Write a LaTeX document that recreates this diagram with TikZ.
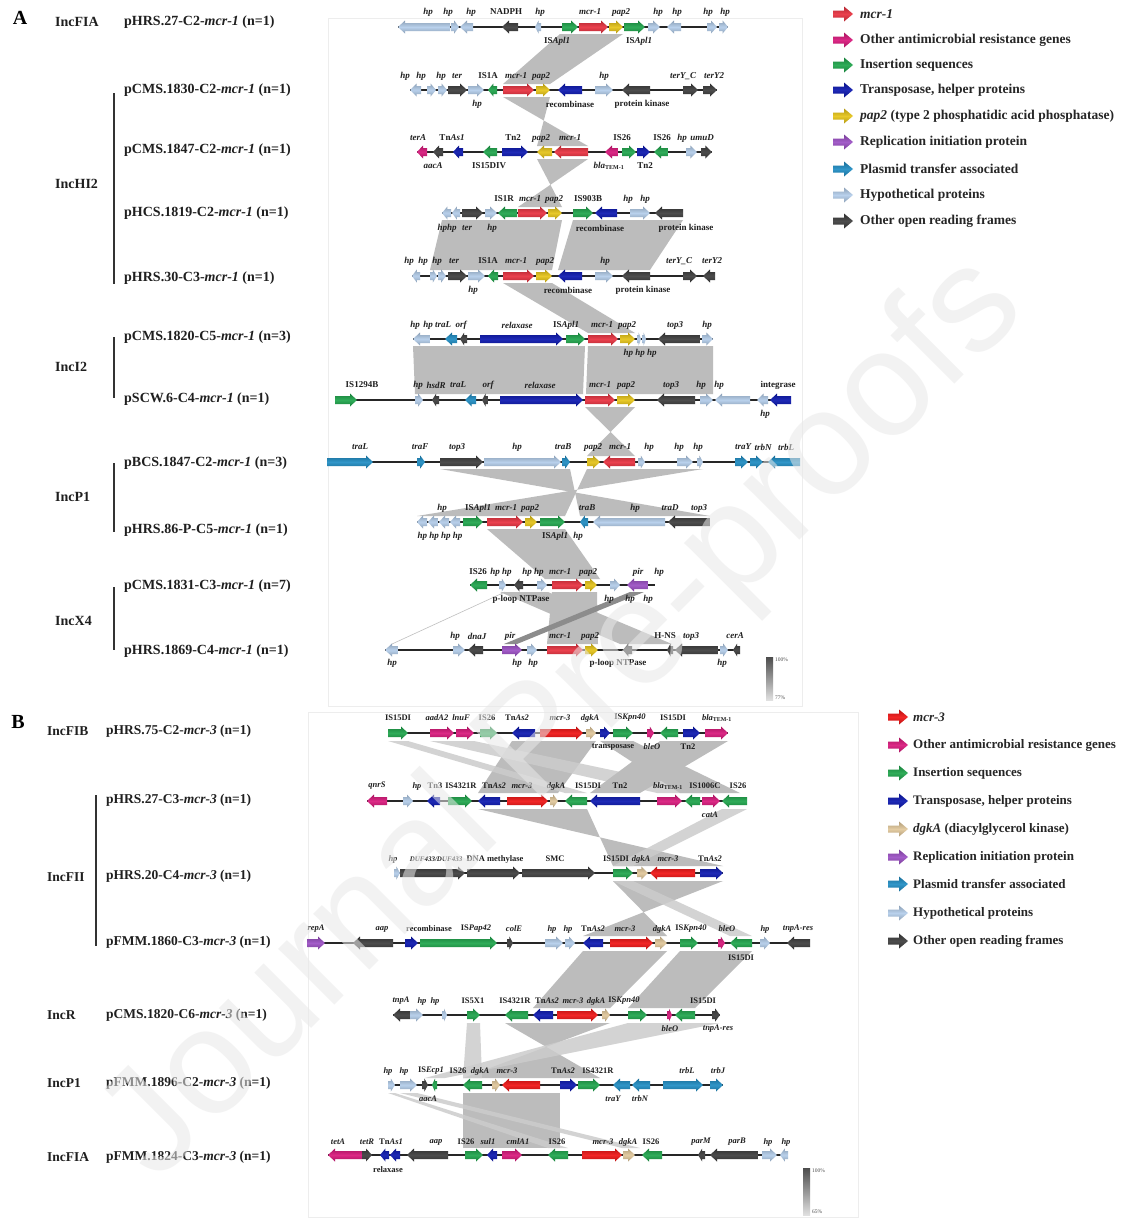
\documentclass[tikz,border=0pt]{standalone}
\usepackage{fontspec}
\setmainfont{Liberation Serif}
\newfontfamily\wmfont{Liberation Sans}
\definecolor{cMcr}{HTML}{E8313F}
\definecolor{cMcrB}{HTML}{F01414}
\definecolor{cAmr}{HTML}{D9177B}
\definecolor{cIS}{HTML}{1EA54B}
\definecolor{cTn}{HTML}{0B17B0}
\definecolor{cPap}{HTML}{E6C417}
\definecolor{cRep}{HTML}{9B4FC4}
\definecolor{cTra}{HTML}{1F8DC4}
\definecolor{cHp}{HTML}{B3CDEA}
\definecolor{cOrf}{HTML}{3D3D3D}
\definecolor{cDgk}{HTML}{E2C89B}
\definecolor{cBand}{HTML}{BCBCBC}
\tikzset{
 lab/.style={font=\fontsize{9}{10}\selectfont\bfseries\itshape, inner sep=0pt, text=black!88},
 pl/.style={font=\fontsize{14}{16}\selectfont\bfseries, anchor=west, inner sep=0pt, text=black!88},
 plb/.style={font=\fontsize{13.5}{15}\selectfont\bfseries, anchor=west, inner sep=0pt, text=black!88},
 legt/.style={font=\fontsize{13.5}{15}\selectfont\bfseries, anchor=west, inner sep=0pt, text=black!85},
 legtb/.style={font=\fontsize{13}{15}\selectfont\bfseries, anchor=west, inner sep=0pt, text=black!85},
 panel/.style={font=\fontsize{20}{22}\selectfont\bfseries, inner sep=0pt},
 band/.style={fill=cBand},
 bandl/.style={fill=black!20, opacity=0.85},
 bbone/.style={line width=1.5pt, black!85},
 gbar/.style={line width=1.6pt, black!80},
 tiny/.style={font=\fontsize{5.5}{6}\selectfont, anchor=west, inner sep=0pt, text=black!70},
 gsh/.style={top color=#1!78!black, bottom color=#1!78!black, middle color=#1!92!white},
}
\newcount\labno
\newcommand\glab[3]{\global\advance\labno by 1\relax\node[lab] (g\number\labno) at (#1,#2) {#3};}
\newcommand\UP[1]{\textup{#1}}
\newcommand\bbn[3]{\draw[bbone] (#1,#3) -- (#2,#3);}
\newcommand\gR[4]{\pgfmathsetmacro\ghl{min(7,0.6*(#2-#1))}\shade[gsh=#4] (#1,#3-4) -- ({#2-\ghl},#3-4) -- ({#2-\ghl},#3-6.5) -- (#2,#3) -- ({#2-\ghl},#3+6.5) -- ({#2-\ghl},#3+4) -- (#1,#3+4) -- cycle;}
\newcommand\gL[4]{\pgfmathsetmacro\ghl{min(7,0.6*(#2-#1))}\shade[gsh=#4] (#2,#3-4) -- ({#1+\ghl},#3-4) -- ({#1+\ghl},#3-6.5) -- (#1,#3) -- ({#1+\ghl},#3+6.5) -- ({#1+\ghl},#3+4) -- (#2,#3+4) -- cycle;}
\newcommand\legar[3]{\shade[gsh=#3] (#1,#2-3.5) -- (#1+11,#2-3.5) -- (#1+11,#2-7.5) -- (#1+20,#2) -- (#1+11,#2+7.5) -- (#1+11,#2+3.5) -- (#1,#2+3.5) -- cycle;}
\begin{document}
\begin{tikzpicture}[x=1pt,y=-1pt]
\useasboundingbox (0,0) rectangle (1124,1218);
\fill[white] (0,0) rectangle (1124,1218);
\draw[black!7] (328,18) rectangle (802,706);
\draw[black!7] (308,712) rectangle (858,1217);
% ================= PANEL A bands
\fill[band] (560,34) -- (623,34) -- (550,84) -- (503,84) -- cycle;
\fill[band] (503,97) -- (550,97) -- (537,146) -- (588,146) -- cycle;
\fill[band] (537,159) -- (588,159) -- (518,207) -- (562,207) -- cycle;
\fill[band] (442,220) -- (562,220) -- (552,270) -- (430,270) -- cycle;
\fill[band] (573,220) -- (683,220) -- (650,270) -- (558,270) -- cycle;
\fill[band] (503,283) -- (552,283) -- (635,333) -- (588,333) -- cycle;
\fill[band] (413,346) -- (585,346) -- (583,394) -- (415,394) -- cycle;
\fill[band] (588,346) -- (713,346) -- (713,394) -- (586,394) -- cycle;
\fill[band] (585,407) -- (635,407) -- (587,456) -- (635,456) -- cycle;
\fill[band] (440,469) -- (570,469) -- (580,516) -- (710,516) -- cycle;
\fill[band] (587,469) -- (703,469) -- (417,516) -- (565,516) -- cycle;
\fill[band] (487,529) -- (565,529) -- (600,579) -- (545,579) -- cycle;
\fill[band] (552,592) -- (597,592) -- (598,644) -- (547,644) -- cycle;
\fill[band] (500,592) -- (548,592) -- (672,644) -- (620,644) -- cycle;
\fill[black!45] (630,592) -- (644,592) -- (517,644) -- (504,644) -- cycle;
\draw[black!25, line width=0.6pt] (505,592) -- (392,644);
% ================= PANEL B bands
\fill[band] (512,741) -- (596,741) -- (558,793) -- (478,793) -- cycle;
\fill[bandl] (388,741) -- (408,741) -- (587,793) -- (565,793) -- cycle;
\fill[bandl] (430,741) -- (474,741) -- (720,793) -- (657,793) -- cycle;
\fill[band] (660,741) -- (728,741) -- (640,793) -- (590,793) -- cycle;
\fill[band] (600,741) -- (633,741) -- (740,793) -- (680,793) -- cycle;
\fill[band] (478,809) -- (587,809) -- (613,866) -- (723,866) -- cycle;
\fill[bandl] (722,809) -- (747,809) -- (633,866) -- (613,866) -- cycle;
\fill[band] (613,881) -- (723,881) -- (583,936) -- (667,936) -- cycle;
\fill[bandl] (613,881) -- (633,881) -- (752,936) -- (730,936) -- cycle;
\fill[band] (583,951) -- (667,951) -- (610,1008) -- (533,1008) -- cycle;
\fill[band] (680,951) -- (752,951) -- (695,1008) -- (628,1008) -- cycle;
\fill[band] (505,1023) -- (610,1023) -- (463,1078) -- (600,1078) -- cycle;
\fill[bandl] (628,1023) -- (720,1023) -- (445,1078) -- (425,1078) -- cycle;
\fill[bandl] (467,1023) -- (480,1023) -- (482,1078) -- (463,1078) -- cycle;
\fill[band] (463,1093) -- (560,1093) -- (560,1148) -- (463,1148) -- cycle;
\fill[bandl] (400,1093) -- (417,1093) -- (640,1148) -- (622,1148) -- cycle;
\fill[bandl] (388,1093) -- (395,1093) -- (568,1148) -- (548,1148) -- cycle;
% ================= ROW A1
\bbn{398}{728}{27}
\gL{398}{450}{27}{cHp}\gR{451}{459}{27}{cHp}\gL{460}{473}{27}{cHp}\gL{502}{518}{27}{cOrf}\gL{535}{541}{27}{cHp}
\gR{562}{578}{27}{cIS}\gR{579}{608}{27}{cMcr}\gR{609}{623}{27}{cPap}\gR{624}{645}{27}{cIS}\gR{648}{660}{27}{cHp}
\gL{667}{681}{27}{cHp}\gR{707}{717}{27}{cHp}\gR{719}{728}{27}{cHp}
\glab{428}{12}{hp}\glab{448}{12}{hp}\glab{471}{12}{hp}\glab{506}{12}{\UP{NADPH}}\glab{540}{12}{hp}\glab{590}{12}{mcr-1}
\glab{621}{12}{pap2}\glab{658}{12}{hp}\glab{677}{12}{hp}\glab{708}{12}{hp}\glab{725}{12}{hp}
\glab{557}{41}{\UP{IS}Apl1}\glab{639}{41}{\UP{IS}Apl1}
% ================= ROW A2
\bbn{410}{717}{90}
\gL{410}{421}{90}{cHp}\gR{427}{436}{90}{cHp}\gR{438}{447}{90}{cHp}\gR{448}{467}{90}{cOrf}\gR{468}{484}{90}{cHp}
\gL{488}{497}{90}{cIS}\gR{503}{534}{90}{cMcr}\gR{536}{550}{90}{cPap}\gL{558}{582}{90}{cTn}\gR{595}{613}{90}{cHp}
\gL{622}{650}{90}{cOrf}\gR{683}{698}{90}{cOrf}\gR{703}{717}{90}{cOrf}
\glab{405}{76}{hp}\glab{421}{76}{hp}\glab{441}{76}{hp}\glab{457}{76}{ter}\glab{488}{76}{\UP{IS1A}}\glab{516}{76}{mcr-1}
\glab{541}{76}{pap2}\glab{604}{76}{hp}\glab{683}{76}{terY\_C}\glab{714}{76}{terY2}
\glab{477}{104}{hp}\glab{570}{104}{\UP{recombinase}}\glab{642}{104}{\UP{protein kinase}}
% ================= ROW A3
\bbn{417}{712}{152}
\gL{417}{427}{152}{cAmr}\gL{433}{443}{152}{cOrf}\gL{453}{463}{152}{cTn}\gL{483}{497}{152}{cIS}\gR{502}{528}{152}{cTn}
\gL{537}{552}{152}{cPap}\gL{554}{588}{152}{cMcr}\gL{605}{618}{152}{cAmr}\gR{622}{636}{152}{cIS}\gR{637}{650}{152}{cTn}
\gL{654}{668}{152}{cIS}\gR{686}{697}{152}{cHp}\gR{701}{712}{152}{cOrf}
\glab{418}{138}{terA}\glab{452}{138}{\UP{Tn}As1}\glab{513}{138}{\UP{Tn2}}\glab{541}{138}{pap2}\glab{570}{138}{mcr-1}
\glab{622}{138}{\UP{IS26}}\glab{662}{138}{\UP{IS26}}\glab{682}{138}{hp}\glab{702}{138}{umuD}
\glab{433}{166}{aacA}\glab{489}{166}{\UP{IS15DIV}}\glab{609}{166}{bla\textsubscript{\UP{TEM-1}}}\glab{645}{166}{\UP{Tn2}}
% ================= ROW A4
\bbn{442}{683}{213}
\gL{442}{451}{213}{cHp}\gL{452}{460}{213}{cHp}\gR{462}{483}{213}{cOrf}\gR{485}{497}{213}{cHp}\gL{498}{517}{213}{cIS}
\gR{518}{547}{213}{cMcr}\gR{548}{562}{213}{cPap}\gR{573}{593}{213}{cIS}\gL{595}{617}{213}{cTn}\gR{630}{650}{213}{cHp}
\gL{655}{683}{213}{cOrf}
\glab{504}{199}{\UP{IS1R}}\glab{530}{199}{mcr-1}\glab{554}{199}{pap2}\glab{588}{199}{\UP{IS903B}}\glab{628}{199}{hp}\glab{645}{199}{hp}
\glab{447}{228}{hphp}\glab{467}{228}{ter}\glab{492}{228}{hp}\glab{600}{228}{\UP{recombinase}}\glab{686}{228}{\UP{protein kinase}}
% ================= ROW A5
\bbn{412}{715}{276}
\gL{412}{420}{276}{cHp}\gR{430}{437}{276}{cHp}\gR{438}{446}{276}{cHp}\gR{448}{467}{276}{cOrf}\gR{468}{485}{276}{cHp}
\gL{488}{498}{276}{cIS}\gR{503}{534}{276}{cMcr}\gR{536}{552}{276}{cPap}\gL{558}{582}{276}{cTn}\gR{595}{613}{276}{cHp}
\gL{622}{650}{276}{cOrf}\gR{683}{697}{276}{cOrf}\gL{703}{715}{276}{cOrf}
\glab{409}{261}{hp}\glab{423}{261}{hp}\glab{437}{261}{hp}\glab{454}{261}{ter}\glab{488}{261}{\UP{IS1A}}\glab{516}{261}{mcr-1}
\glab{545}{261}{pap2}\glab{605}{261}{hp}\glab{679}{261}{terY\_C}\glab{712}{261}{terY2}
\glab{473}{290}{hp}\glab{568}{290}{\UP{recombinase}}\glab{643}{290}{\UP{protein kinase}}
% ================= ROW A6
\bbn{413}{713}{339}
\gL{413}{430}{339}{cHp}\gL{445}{457}{339}{cTra}\gL{460}{467}{339}{cOrf}\gR{480}{563}{339}{cTn}\gR{566}{585}{339}{cIS}
\gR{588}{618}{339}{cMcr}\gR{620}{635}{339}{cPap}\gR{637}{641}{339}{cHp}\gR{642}{646}{339}{cHp}\gL{658}{700}{339}{cOrf}
\gR{702}{713}{339}{cHp}
\glab{415}{325}{hp}\glab{428}{325}{hp}\glab{443}{325}{traL}\glab{461}{325}{orf}\glab{517}{325}{relaxase}\glab{566}{325}{\UP{IS}Apl1}
\glab{602}{325}{mcr-1}\glab{627}{325}{pap2}\glab{675}{325}{top3}\glab{707}{325}{hp}
\glab{640}{353}{hp hp hp}
% ================= ROW A7
\bbn{335}{790}{400}
\gR{335}{357}{400}{cIS}\gR{415}{423}{400}{cHp}\gL{432}{439}{400}{cOrf}\gL{465}{476}{400}{cTra}\gL{482}{488}{400}{cOrf}
\gR{500}{583}{400}{cTn}\gR{585}{615}{400}{cMcr}\gR{617}{635}{400}{cPap}\gL{657}{695}{400}{cOrf}\gR{700}{713}{400}{cHp}
\gL{715}{750}{400}{cHp}\gL{757}{768}{400}{cHp}\gL{770}{791}{400}{cTn}
\glab{362}{385}{\UP{IS1294B}}\glab{418}{385}{hp}\glab{436}{385}{hsdR}\glab{458}{385}{traL}\glab{488}{385}{orf}
\glab{540}{385}{relaxase}\glab{600}{385}{mcr-1}\glab{626}{385}{pap2}\glab{671}{385}{top3}\glab{701}{385}{hp}\glab{719}{385}{hp}
\glab{778}{385}{\UP{integrase}}
\glab{765}{414}{hp}
% ================= ROW A8
\bbn{327}{800}{462}
\gR{327}{373}{462}{cTra}\gR{417}{425}{462}{cTra}\gR{440}{483}{462}{cOrf}\gR{484}{561}{462}{cHp}\gR{562}{570}{462}{cTra}
\gR{587}{600}{462}{cPap}\gL{603}{635}{462}{cMcr}\gR{638}{645}{462}{cHp}\gR{677}{693}{462}{cHp}\gR{697}{703}{462}{cHp}
\gR{735}{748}{462}{cTra}\gR{750}{763}{462}{cTra}\gL{768}{800}{462}{cTra}
\glab{360}{447}{traL}\glab{420}{447}{traF}\glab{457}{447}{top3}\glab{517}{447}{hp}\glab{563}{447}{traB}\glab{593}{447}{pap2}
\glab{620}{447}{mcr-1}\glab{649}{447}{hp}\glab{679}{447}{hp}\glab{698}{447}{hp}\glab{743}{447}{traY}\glab{763}{447}{trbN}\glab{786}{447}{trbL}
% ================= ROW A9
\bbn{417}{710}{522}
\gL{417}{427}{522}{cHp}\gL{428}{438}{522}{cHp}\gL{439}{449}{522}{cHp}\gL{450}{460}{522}{cHp}\gR{463}{483}{522}{cIS}
\gR{487}{523}{522}{cMcr}\gR{525}{537}{522}{cPap}\gR{540}{565}{522}{cIS}\gL{580}{588}{522}{cTra}\gL{593}{665}{522}{cHp}
\gL{668}{710}{522}{cOrf}
\glab{442}{508}{hp}\glab{478}{508}{\UP{IS}Apl1}\glab{506}{508}{mcr-1}\glab{530}{508}{pap2}\glab{587}{508}{traB}
\glab{635}{508}{hp}\glab{670}{508}{traD}\glab{699}{508}{top3}
\glab{440}{536}{hp hp hp hp}\glab{555}{536}{\UP{IS}Apl1}\glab{578}{536}{hp}
% ================= ROW A10
\bbn{470}{655}{585}
\gL{470}{487}{585}{cIS}\gR{499}{506}{585}{cHp}\gL{514}{523}{585}{cOrf}\gR{537}{547}{585}{cHp}\gR{552}{583}{585}{cMcr}
\gR{585}{597}{585}{cPap}\gR{610}{620}{585}{cHp}\gL{627}{648}{585}{cRep}
\glab{478}{572}{\UP{IS26}}\glab{501}{572}{hp hp}\glab{533}{572}{hp hp}\glab{560}{572}{mcr-1}\glab{588}{572}{pap2}
\glab{638}{572}{pir}\glab{659}{572}{hp}
\glab{521}{599}{\UP{p-loop NTPase}}\glab{609}{599}{hp}\glab{630}{599}{hp}\glab{648}{599}{hp}
% ================= ROW A11
\bbn{385}{740}{650}
\gL{385}{398}{650}{cHp}\gR{453}{465}{650}{cHp}\gL{468}{483}{650}{cOrf}\gR{502}{522}{650}{cRep}\gR{527}{537}{650}{cHp}
\gR{547}{583}{650}{cMcr}\gR{585}{598}{650}{cPap}\gL{623}{632}{650}{cOrf}\gL{667}{673}{650}{cOrf}\gL{675}{718}{650}{cOrf}
\gR{720}{728}{650}{cHp}\gL{733}{740}{650}{cOrf}
\glab{455}{636}{hp}\glab{477}{636}{dnaJ}\glab{510}{636}{pir}\glab{560}{636}{mcr-1}\glab{590}{636}{pap2}
\glab{665}{636}{\UP{H-NS}}\glab{691}{636}{top3}\glab{735}{636}{cerA}
\glab{392}{663}{hp}\glab{517}{663}{hp}\glab{533}{663}{hp}\glab{618}{663}{\UP{p-loop NTPase}}\glab{722}{663}{hp}
% scale bar A
\shade[top color=black!70, bottom color=black!12] (766,657) rectangle (773,700);
\node[tiny] (sa1) at (775,660) {100\%};
\node[tiny] (sa2) at (775,698) {77\%};
% ================= PANEL B labels smaller
\tikzset{lab/.style={font=\fontsize{8.5}{9}\selectfont\bfseries\itshape, inner sep=0pt, text=black!88}}
% ================= ROW B1
\bbn{388}{728}{733}
\gR{388}{408}{733}{cIS}\gR{430}{454}{733}{cAmr}\gR{456}{474}{733}{cAmr}\gR{480}{497}{733}{cIS}\gL{512}{535}{733}{cTn}
\gR{540}{583}{733}{cMcrB}\gR{586}{596}{733}{cDgk}\gR{600}{610}{733}{cTn}\gR{613}{633}{733}{cIS}\gR{647}{654}{733}{cAmr}
\gL{660}{678}{733}{cIS}\gR{683}{700}{733}{cTn}\gR{705}{728}{733}{cAmr}
\glab{398}{718}{\UP{IS15DI}}\glab{437}{718}{aadA2}\glab{461}{718}{lnuF}\glab{487}{718}{\UP{IS26}}\glab{517}{718}{\UP{Tn}As2}
\glab{560}{718}{mcr-3}\glab{590}{718}{dgkA}\glab{630}{718}{\UP{IS}Kpn40}\glab{673}{718}{\UP{IS15DI}}\glab{717}{718}{bla\textsubscript{\UP{TEM-1}}}
\glab{613}{747}{\UP{transposase}}\glab{652}{747}{bleO}\glab{688}{747}{\UP{Tn2}}
% ================= ROW B2
\bbn{367}{747}{801}
\gL{367}{387}{801}{cAmr}\gR{403}{413}{801}{cHp}\gL{427}{440}{801}{cTn}\gR{448}{472}{801}{cIS}\gL{478}{500}{801}{cTn}
\gR{507}{548}{801}{cMcrB}\gR{550}{558}{801}{cDgk}\gL{565}{587}{801}{cIS}\gL{590}{640}{801}{cTn}\gR{657}{682}{801}{cAmr}
\gL{685}{700}{801}{cIS}\gR{702}{720}{801}{cAmr}\gL{722}{747}{801}{cIS}
\glab{377}{786}{qnrS}\glab{417}{786}{hp}\glab{435}{786}{\UP{Tn3}}\glab{461}{786}{\UP{IS4321R}}\glab{494}{786}{\UP{Tn}As2}
\glab{522}{786}{mcr-3}\glab{556}{786}{dgkA}\glab{588}{786}{\UP{IS15DI}}\glab{620}{786}{\UP{Tn2}}\glab{668}{786}{bla\textsubscript{\UP{TEM-1}}}
\glab{705}{786}{\UP{IS1006C}}\glab{738}{786}{\UP{IS26}}
\glab{710}{815}{catA}
% ================= ROW B3
\bbn{394}{723}{873}
\gR{394}{400}{873}{cHp}\gR{400}{465}{873}{cOrf}\gR{467}{520}{873}{cOrf}\gR{522}{595}{873}{cOrf}\gR{613}{633}{873}{cIS}
\gR{637}{648}{873}{cDgk}\gL{650}{695}{873}{cMcrB}\gR{700}{723}{873}{cTn}
\glab{393}{859}{hp}\glab{436}{859}{\fontsize{7}{8}\selectfont DUF433/DUF433}\glab{495}{859}{\UP{DNA methylase}}\glab{555}{859}{\UP{SMC}}
\glab{616}{859}{\UP{IS15DI}}\glab{641}{859}{dgkA}\glab{668}{859}{mcr-3}\glab{710}{859}{\UP{Tn}As2}
% ================= ROW B4
\bbn{307}{810}{943}
\gR{307}{325}{943}{cRep}\gL{353}{393}{943}{cOrf}\gR{405}{418}{943}{cTn}\gR{420}{497}{943}{cIS}\gR{507}{513}{943}{cOrf}
\gR{545}{563}{943}{cHp}\gR{565}{575}{943}{cHp}\gL{583}{603}{943}{cTn}\gR{610}{653}{943}{cMcrB}\gR{655}{667}{943}{cDgk}
\gR{680}{698}{943}{cIS}\gR{718}{725}{943}{cAmr}\gL{730}{752}{943}{cIS}\gR{760}{770}{943}{cHp}\gL{787}{810}{943}{cOrf}
\glab{316}{929}{repA}\glab{382}{929}{aap}\glab{429}{929}{\UP{recombinase}}\glab{476}{929}{\UP{IS}Pap42}\glab{514}{929}{colE}
\glab{552}{929}{hp}\glab{568}{929}{hp}\glab{593}{929}{\UP{Tn}As2}\glab{625}{929}{mcr-3}\glab{662}{929}{dgkA}\glab{691}{929}{\UP{IS}Kpn40}
\glab{727}{929}{bleO}\glab{765}{929}{hp}\glab{798}{929}{tnpA-res}
\glab{741}{958}{\UP{IS15DI}}
% ================= ROW B5
\bbn{393}{720}{1015}
\gL{393}{410}{1015}{cOrf}\gR{410}{423}{1015}{cHp}\gR{442}{447}{1015}{cHp}\gR{467}{480}{1015}{cIS}\gL{505}{528}{1015}{cIS}
\gL{533}{553}{1015}{cTn}\gR{557}{598}{1015}{cMcrB}\gR{602}{610}{1015}{cDgk}\gR{628}{647}{1015}{cIS}\gR{667}{672}{1015}{cAmr}
\gL{675}{695}{1015}{cIS}\gR{712}{720}{1015}{cOrf}
\glab{401}{1001}{tnpA}\glab{422}{1001}{hp}\glab{435}{1001}{hp}\glab{473}{1001}{\UP{IS5X1}}\glab{515}{1001}{\UP{IS4321R}}
\glab{547}{1001}{\UP{Tn}As2}\glab{573}{1001}{mcr-3}\glab{596}{1001}{dgkA}\glab{624}{1001}{\UP{IS}Kpn40}\glab{703}{1001}{\UP{IS15DI}}
\glab{670}{1029}{bleO}\glab{718}{1029}{tnpA-res}
% ================= ROW B6
\bbn{388}{723}{1085}
\gR{388}{395}{1085}{cHp}\gR{400}{417}{1085}{cHp}\gR{422}{428}{1085}{cOrf}\gL{432}{437}{1085}{cIS}\gL{463}{482}{1085}{cIS}
\gR{492}{500}{1085}{cDgk}\gL{502}{540}{1085}{cMcrB}\gR{560}{577}{1085}{cTn}\gR{578}{600}{1085}{cIS}\gL{613}{630}{1085}{cTra}
\gL{632}{650}{1085}{cTra}\gR{663}{703}{1085}{cTra}\gR{710}{723}{1085}{cTra}
\glab{388}{1071}{hp}\glab{404}{1071}{hp}\glab{431}{1071}{\UP{IS}Ecp1}\glab{458}{1071}{\UP{IS26}}\glab{480}{1071}{dgkA}
\glab{507}{1071}{mcr-3}\glab{563}{1071}{\UP{Tn}As2}\glab{598}{1071}{\UP{IS4321R}}\glab{687}{1071}{trbL}\glab{718}{1071}{trbJ}
\glab{428}{1099}{aacA}\glab{613}{1099}{traY}\glab{640}{1099}{trbN}
% ================= ROW B7
\bbn{328}{788}{1155}
\gL{328}{362}{1155}{cAmr}\gR{362}{372}{1155}{cOrf}\gL{380}{389}{1155}{cTn}\gL{390}{400}{1155}{cTn}\gL{407}{448}{1155}{cOrf}
\gR{465}{483}{1155}{cIS}\gL{487}{497}{1155}{cTn}\gR{502}{522}{1155}{cAmr}\gL{548}{568}{1155}{cIS}\gR{582}{622}{1155}{cMcrB}
\gR{623}{635}{1155}{cDgk}\gL{642}{662}{1155}{cIS}\gL{698}{705}{1155}{cOrf}\gL{710}{758}{1155}{cOrf}\gR{762}{777}{1155}{cHp}
\gL{780}{788}{1155}{cHp}
\glab{338}{1142}{tetA}\glab{367}{1142}{tetR}\glab{391}{1142}{\UP{Tn}As1}\glab{436}{1142}{aap}\glab{466}{1142}{\UP{IS26}}
\glab{488}{1142}{sul1}\glab{518}{1142}{cmlA1}\glab{557}{1142}{\UP{IS26}}\glab{603}{1142}{mcr-3}\glab{628}{1142}{dgkA}
\glab{651}{1142}{\UP{IS26}}\glab{701}{1142}{parM}\glab{737}{1142}{parB}\glab{768}{1142}{hp}\glab{786}{1142}{hp}
\glab{388}{1170}{\UP{relaxase}}
% scale bar B
\shade[top color=black!70, bottom color=black!12] (803,1168) rectangle (810,1215);
\node[tiny] (sb1) at (812,1171) {100\%};
\node[tiny] (sb2) at (812,1212) {65\%};
% ================= LEFT LABELS A
\node[panel] (pA) at (20,18) {A};
\node[pl] (iA1) at (55,22) {IncFIA};
\node[pl] (iA2) at (55,184) {IncHI2};
\node[pl] (iA3) at (55,367) {IncI2};
\node[pl] (iA4) at (55,497) {IncP1};
\node[pl] (iA5) at (55,621) {IncX4};
\draw[gbar] (114,93) -- (114,284);
\draw[gbar] (114,337) -- (114,398);
\draw[gbar] (114,463) -- (114,532);
\draw[gbar] (114,587) -- (114,650);
\node[pl] (nA1) at (124,22) {pHRS.27-C2-\textit{mcr-1} (n=1)};
\node[pl] (nA2) at (124,90) {pCMS.1830-C2-\textit{mcr-1} (n=1)};
\node[pl] (nA3) at (124,150) {pCMS.1847-C2-\textit{mcr-1} (n=1)};
\node[pl] (nA4) at (124,213) {pHCS.1819-C2-\textit{mcr-1} (n=1)};
\node[pl] (nA5) at (124,278) {pHRS.30-C3-\textit{mcr-1} (n=1)};
\node[pl] (nA6) at (124,337) {pCMS.1820-C5-\textit{mcr-1} (n=3)};
\node[pl] (nA7) at (124,399) {pSCW.6-C4-\textit{mcr-1} (n=1)};
\node[pl] (nA8) at (124,463) {pBCS.1847-C2-\textit{mcr-1} (n=3)};
\node[pl] (nA9) at (124,530) {pHRS.86-P-C5-\textit{mcr-1} (n=1)};
\node[pl] (nA10) at (124,586) {pCMS.1831-C3-\textit{mcr-1} (n=7)};
\node[pl] (nA11) at (124,651) {pHRS.1869-C4-\textit{mcr-1} (n=1)};
% ================= LEFT LABELS B
\node[panel] (pB) at (18,722) {B};
\node[plb] (iB1) at (47,731) {IncFIB};
\node[plb] (iB2) at (47,877) {IncFII};
\node[plb] (iB3) at (47,1015) {IncR};
\node[plb] (iB4) at (47,1083) {IncP1};
\node[plb] (iB5) at (47,1157) {IncFIA};
\draw[gbar] (96,795) -- (96,946);
\node[plb] (nB1) at (106,731) {pHRS.75-C2-\textit{mcr-3} (n=1)};
\node[plb] (nB2) at (106,800) {pHRS.27-C3-\textit{mcr-3} (n=1)};
\node[plb] (nB3) at (106,876) {pHRS.20-C4-\textit{mcr-3} (n=1)};
\node[plb] (nB4) at (106,942) {pFMM.1860-C3-\textit{mcr-3} (n=1)};
\node[plb] (nB5) at (106,1015) {pCMS.1820-C6-\textit{mcr-3} (n=1)};
\node[plb] (nB6) at (106,1083) {pFMM.1896-C2-\textit{mcr-3} (n=1)};
\node[plb] (nB7) at (106,1157) {pFMM.1824-C3-\textit{mcr-3} (n=1)};
% ================= LEGEND A
\legar{833}{14}{cMcr}\node[legt] (la1) at (860,14) {\textit{mcr-1}};
\legar{833}{40}{cAmr}\node[legt] (la2) at (860,40) {Other antimicrobial resistance genes};
\legar{833}{65}{cIS}\node[legt] (la3) at (860,65) {Insertion sequences};
\legar{833}{90}{cTn}\node[legt] (la4) at (860,90) {Transposase, helper proteins};
\legar{833}{116}{cPap}\node[legt] (la5) at (860,116) {\textit{pap2} (type 2 phosphatidic acid phosphatase)};
\legar{833}{142}{cRep}\node[legt] (la6) at (860,142) {Replication initiation protein};
\legar{833}{169}{cTra}\node[legt] (la7) at (860,169) {Plasmid transfer associated};
\legar{833}{195}{cHp}\node[legt] (la8) at (860,195) {Hypothetical proteins};
\legar{833}{221}{cOrf}\node[legt] (la9) at (860,221) {Other open reading frames};
% ================= LEGEND B
\legar{888}{717}{cMcrB}\node[legtb] (lb1) at (913,717) {\textit{mcr-3}};
\legar{888}{745}{cAmr}\node[legtb] (lb2) at (913,745) {Other antimicrobial resistance genes};
\legar{888}{773}{cIS}\node[legtb] (lb3) at (913,773) {Insertion sequences};
\legar{888}{801}{cTn}\node[legtb] (lb4) at (913,801) {Transposase, helper proteins};
\legar{888}{829}{cDgk}\node[legtb] (lb5) at (913,829) {\textit{dgkA} (diacylglycerol kinase)};
\legar{888}{857}{cRep}\node[legtb] (lb6) at (913,857) {Replication initiation protein};
\legar{888}{884}{cTra}\node[legtb] (lb7) at (913,884) {Plasmid transfer associated};
\legar{888}{913}{cHp}\node[legtb] (lb8) at (913,913) {Hypothetical proteins};
\legar{888}{941}{cOrf}\node[legtb] (lb9) at (913,941) {Other open reading frames};
% ================= WATERMARK
\node[font=\wmfont\fontsize{150}{150}\selectfont, text=black!9, opacity=0.55, rotate=45, inner sep=0pt] (wm) at (565,720) {Journal Pre-proofs};
\end{tikzpicture}
\end{document}
